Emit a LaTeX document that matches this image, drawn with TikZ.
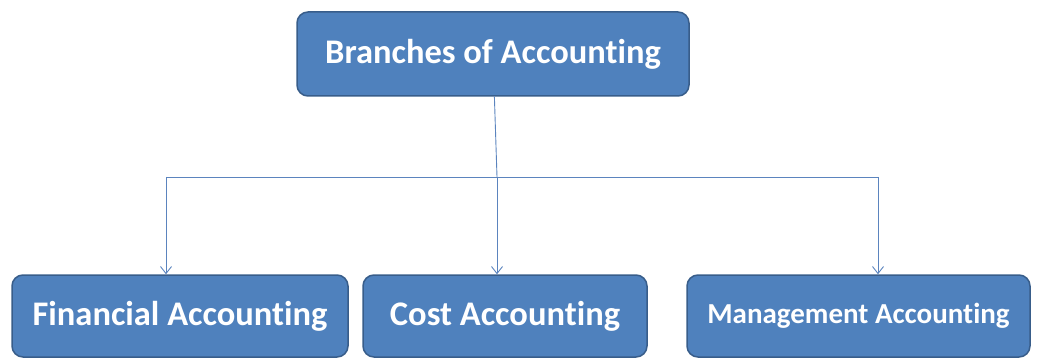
\documentclass[tikz,border=0pt]{standalone}
\usepackage{fontspec}
\setmainfont{Carlito}[Ligatures=NoCommon]
\usetikzlibrary{arrows.meta}
\definecolor{boxblue}{HTML}{4F81BD}
\definecolor{boxedge}{HTML}{385D8A}
\definecolor{linkblue}{HTML}{5B84BE}
\begin{document}
\begin{tikzpicture}[
  x=1pt, y=-1pt,
  branch/.style={
    draw=boxedge, line width=1.5pt, fill=boxblue,
    rounded corners=11pt, text=white,
    font=\bfseries\fontsize{34.5}{40}\selectfont,
    inner sep=0pt, minimum height=82pt,
    },
  link/.style={draw=linkblue, line width=0.9pt},
  arrow/.style={link, -{Straight Barb[length=7pt,width=11pt]}},
  ]
\useasboundingbox (0,0) rectangle (1038,358);
\node[branch, minimum width=392pt, minimum height=84pt] (root) at (493,54) {Branches of Accounting};
\node[branch, minimum width=336pt] (fin) at (180,316) {Financial Accounting};
\node[branch, minimum width=284pt] (cost) at (505,316) {Cost Accounting};
\node[branch, minimum width=343pt,
  font=\bfseries\fontsize{29}{34}\selectfont] (mgmt) at (858.5,316) {Management Accounting};
\coordinate (hub) at (497,177);
\coordinate (left) at (166,177);
\coordinate (right) at (878,177);
\draw[link] (root) -- (hub);
\draw[link] (left) -- (right);
\draw[arrow] (left) -- (left |- fin.north);
\draw[arrow] (hub) -- (hub |- cost.north);
\draw[arrow] (right) -- (right |- mgmt.north);
\end{tikzpicture}
\end{document}
